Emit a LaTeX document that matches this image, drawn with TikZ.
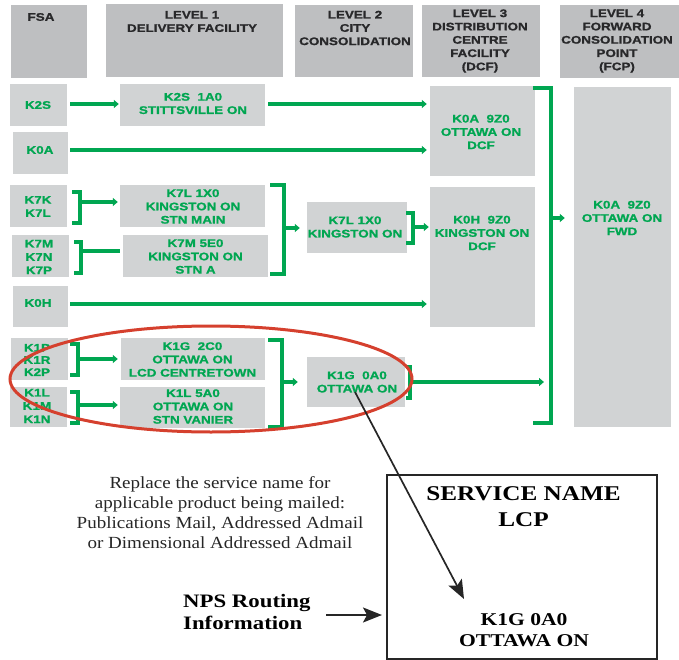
\documentclass[tikz,border=0pt]{standalone}
\usepackage{fontspec}
\setmainfont{Liberation Serif}
\newfontfamily\lab[FakeStretch=1.22,FakeBold=1.2]{Liberation Sans Bold}
\newfontfamily\ser[FakeStretch=1.12]{Liberation Serif}
\newfontfamily\serb[FakeStretch=1.2]{Liberation Serif Bold}
\usetikzlibrary{arrows.meta,calc,shapes.geometric}
\definecolor{pgreen}{RGB}{0,166,81}
\definecolor{hgray}{RGB}{190,191,193}
\definecolor{lgray}{RGB}{209,211,212}
\definecolor{htext}{RGB}{40,40,42}
\definecolor{ored}{RGB}{213,64,46}
\tikzset{
  hbox/.style={fill=hgray,inner sep=0pt},
  gbox/.style={fill=lgray,inner sep=0pt},
  gtxt/.style={text=pgreen,font=\lab\fontsize{11}{13.3}\selectfont,align=center,inner sep=0pt},
  htxt/.style={text=htext,font=\lab\fontsize{11}{13.3}\selectfont,align=center,inner sep=0pt},
  gline/.style={draw=pgreen,line width=4pt},
  garr/.style={gline,-{Triangle[length=5pt,width=8pt]}},
  gbr/.style={draw=pgreen,line width=4.5pt,miter limit=10},
  barr/.style={draw=black!85,line width=1.7pt,-{Stealth[length=19pt,width=15pt,inset=4pt]}},
}
\begin{document}
\begin{tikzpicture}[x=1pt,y=-1pt]
\useasboundingbox (0,0) rectangle (679,660);
% headers
\node[hbox,minimum width=76,minimum height=73] (hFSA) at (49,41.5) {};
\node[hbox,minimum width=177,minimum height=73] (hL1) at (194.5,40.5) {};
\node[hbox,minimum width=118,minimum height=72] (hL2) at (354,41) {};
\node[hbox,minimum width=118,minimum height=72] (hL3) at (481,41) {};
\node[hbox,minimum width=119,minimum height=73] (hL4) at (619.5,41.5) {};
\node[htxt] (tFSA) at (41,17) {FSA};
\node[htxt] (tL1) at (192,21.5) {LEVEL 1\\DELIVERY FACILITY};
\node[htxt] (tL2) at (355,28) {LEVEL 2\\CITY\\CONSOLIDATION};
\node[htxt] (tL3) at (480,41) {LEVEL 3\\DISTRIBUTION\\CENTRE\\FACILITY\\(DCF)};
\node[htxt] (tL4) at (617,41) {LEVEL 4\\FORWARD\\CONSOLIDATION\\POINT\\(FCP)};
% FSA boxes
\node[gbox,minimum width=57,minimum height=42] (fK2S) at (38.5,105) {};
\node[gbox,minimum width=55,minimum height=42] (fK0A) at (40.5,153) {};
\node[gbox,minimum width=57,minimum height=42] (fK7K) at (38.5,206) {};
\node[gbox,minimum width=57,minimum height=42] (fK7M) at (40.5,256) {};
\node[gbox,minimum width=55,minimum height=41] (fK0H) at (40.5,306.5) {};
\node[gbox,minimum width=57,minimum height=42] (fK1P) at (39.5,359) {};
\node[gbox,minimum width=57,minimum height=40] (fK1L) at (38.5,407) {};
% level 1
\node[gbox,minimum width=145,minimum height=42] (dK2S) at (192.5,105) {};
\node[gbox,minimum width=145,minimum height=42] (dK7L) at (192.5,206) {};
\node[gbox,minimum width=145,minimum height=42] (dK7M) at (195.5,256) {};
\node[gbox,minimum width=144,minimum height=42] (dK1G) at (193,359) {};
\node[gbox,minimum width=145,minimum height=41] (dK1L) at (192.5,407.5) {};
% level 2
\node[gbox,minimum width=100,minimum height=51] (cK7L) at (357,227.5) {};
\node[gbox,minimum width=98,minimum height=50] (cK1G) at (356,382) {};
% level 3 / 4
\node[gbox,minimum width=105,minimum height=90] (dcfA) at (482.5,131) {};
\node[gbox,minimum width=105,minimum height=140] (dcfH) at (482.5,257) {};
\node[gbox,minimum width=97,minimum height=340] (fwd) at (622.5,257) {};
% texts
\node[gtxt] at (38,105) {K2S};
\node[gtxt] at (40,150) {K0A};
\node[gtxt] at (38,206.5) {K7K\\K7L};
\node[gtxt] at (39,257) {K7M\\K7N\\K7P};
\node[gtxt] at (38,303) {K0H};
\node[gtxt,font=\lab\fontsize{11}{12.2}\selectfont] at (37,360) {K1P\\K1R\\K2P};
\node[gtxt] at (37,406) {K1L\\K1M\\K1N};
\node[gtxt] at (193,103.5) {K2S\ \ 1A0\\STITTSVILLE ON};
\node[gtxt] at (193,206.5) {K7L 1X0\\KINGSTON ON\\STN MAIN};
\node[gtxt] at (195.5,256.5) {K7M 5E0\\KINGSTON ON\\STN A};
\node[gtxt] at (192.5,359.5) {K1G\ \ 2C0\\OTTAWA ON\\LCD CENTRETOWN};
\node[gtxt] at (193,406.5) {K1L 5A0\\OTTAWA ON\\STN VANIER};
\node[gtxt] at (355,227) {K7L 1X0\\KINGSTON ON};
\node[gtxt] at (357,382) {K1G\ \ 0A0\\OTTAWA ON};
\node[gtxt] at (481,132) {K0A\ \ 9Z0\\OTTAWA ON\\DCF};
\node[gtxt] at (482,233) {K0H\ \ 9Z0\\KINGSTON ON\\DCF};
\node[gtxt] at (622,218) {K0A\ \ 9Z0\\OTTAWA ON\\FWD};
% straight connectors
\draw[garr] ($(fK2S.east)+(3,-1)$) -- ($(dK2S.west)+(-1,-1)$);
\draw[garr] ($(dK2S.east)+(3,-1)$) -- ($(dK2S.east -| dcfA.west)+(-3,-1)$);
\draw[garr] ($(fK0A.east)+(2,-3)$) -- ($(fK0A.east -| dcfA.west)+(-3,-3)$);
\draw[garr] ($(fK0H.east)+(2,-2.5)$) -- ($(fK0H.east -| dcfH.west)+(-3,-2.5)$);
% brackets
\draw[gbr] (72,192) -- (80,192) -- (80,223) -- (72,223);
\coordinate (b1) at (80,202);
\draw[garr] (b1) -- ($(b1 -| dK7L.west)+(-2,0)$);
\draw[gbr] (74,242) -- (81,242) -- (81,273) -- (74,273);
\coordinate (b2) at (81,251);
\draw[gline] (b2) -- ($(b2 -| dK7M.west)+(-3,0)$);
\draw[gbr] (270,185) -- (284,185) -- (284,274) -- (270,274);
\coordinate (b3) at (284,228);
\draw[garr] (b3) -- ($(b3 -| cK7L.west)+(-7,0)$);
\draw[gbr] (406,213) -- (413,213) -- (413,243) -- (406,243);
\coordinate (b4) at (413,227);
\draw[garr] (b4) -- ($(b4 -| dcfH.west)+(-1,0)$);
\draw[gbr] (533,88) -- (551,88) -- (551,423) -- (533,423);
\coordinate (b5) at (551,218);
\draw[garr] (b5) -- ($(b5 -| fwd.west)+(-9,0)$);
\draw[gbr] (406,367) -- (410,367) -- (410,398) -- (406,398);
\coordinate (b6) at (410,382);
\coordinate (b6e) at (544,382);
\draw[garr] (b6) -- (b6e);
\draw[gbr] (70,344) -- (78,344) -- (78,375) -- (70,375);
\coordinate (b7) at (78,359);
\draw[garr] (b7) -- ($(b7 -| dK1G.west)+(-3,0)$);
\draw[gbr] (70,392) -- (78,392) -- (78,423) -- (70,423);
\coordinate (b8) at (78,405);
\draw[garr] (b8) -- ($(b8 -| dK1L.west)+(-2,0)$);
\draw[gbr] (268,340) -- (282,340) -- (282,427) -- (268,427);
\coordinate (b9) at (282,382);
\draw[garr] (b9) -- ($(b9 -| cK1G.west)+(-9,0)$);
% red ellipse
\node[draw=ored,line width=3pt,ellipse,inner sep=0pt,minimum width=402,minimum height=106] (oval) at (211,379) {};
% service box
\node[draw=black!85,line width=2pt,inner sep=0pt,minimum width=270,minimum height=184] (svc) at (522,567) {};
\node[font=\serb\fontsize{21}{26}\selectfont,align=center,inner sep=0pt] (svcname) at (523.5,507) {SERVICE NAME\\LCP};
\node[font=\serb\fontsize{18}{21}\selectfont,align=center,inner sep=0pt] (svcaddr) at (524,630) {K1G 0A0\\OTTAWA ON};
\node[font=\ser\fontsize{17}{20}\selectfont,align=center,inner sep=0pt,text=black!85] (note) at (220,513) {Replace the service name for\\applicable product being mailed:\\Publications Mail, Addressed Admail\\or Dimensional Addressed Admail};
\node[font=\serb\fontsize{19}{22}\selectfont,align=left,anchor=west,inner sep=0pt] (nps) at (183,612) {NPS Routing\\Information};
\coordinate (arrS) at ($(cK1G.center)+(-1,10)$);
\coordinate (arrE) at ($(svc.north west)+(78,125)$);
\draw[barr] (arrS) -- (arrE);
\draw[barr] (326,615) -- ($(svc.west |- 0,615)+(-4,0)$);
\end{tikzpicture}
\end{document}
